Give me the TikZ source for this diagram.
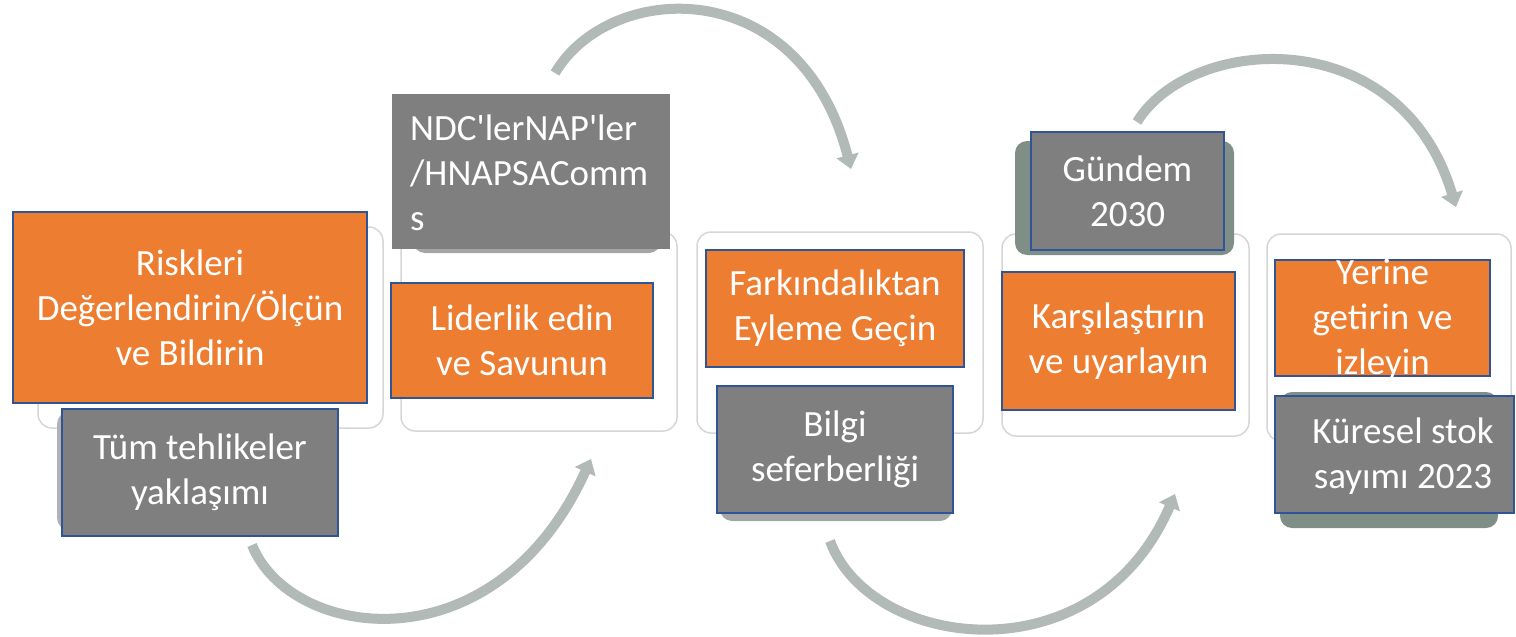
\documentclass[tikz,border=0pt]{standalone}
\usepackage{fontspec}
\setmainfont{Carlito}[Ligatures=TeXOff]
\usetikzlibrary{arrows.meta}
\definecolor{orangebox}{HTML}{ED7D31}
\definecolor{greybox}{HTML}{7F7F7F}
\definecolor{boxline}{HTML}{2F5597}
\definecolor{arcgrey}{HTML}{B2BAB8}
\definecolor{cardline}{HTML}{D6D6D6}
\definecolor{shadowgrey}{HTML}{7F8F88}
\tikzset{
    card/.style={draw=cardline, line width=1.5pt, fill=white, rounded corners=14pt},
    backbox/.style={fill=shadowgrey, rounded corners=12pt},
    obox/.style={draw=boxline, line width=2pt, fill=orangebox, inner sep=0pt},
    gbox/.style={draw=boxline, line width=2pt, fill=greybox, inner sep=0pt},
    lbl/.style={text=white, align=center, font=\fontsize{37}{45}\selectfont},
    flow/.style={draw=arcgrey, line width=10pt, -{Triangle[width=22pt,length=14pt]}}
}
\begin{document}
\begin{tikzpicture}[x=1pt,y=-1pt]
    \useasboundingbox (0,0) rectangle (1516,637);
    % curved arrows
    \coordinate (a1s) at (252,545);
    \coordinate (a1e) at (591,459);
    \coordinate (a2s) at (555,73);
    \coordinate (a2e) at (851,169);
    \coordinate (a3s) at (830,541);
    \coordinate (a3e) at (1175,494);
    \coordinate (a4s) at (1137,122);
    \coordinate (a4e) at (1456,207);
    \draw[flow] (a1s) .. controls (290,640) and (495,670) .. (a1e);
    \draw[flow] (a2s) .. controls (610,-20) and (800,-28) .. (a2e);
    \draw[flow] (a3s) .. controls (870,650) and (1095,680) .. (a3e);
    \draw[flow] (a4s) .. controls (1190,35) and (1400,20) .. (a4e);
    % cards
    \draw[card] (38,227) rectangle (383,428);
    \draw[card] (401,232) rectangle (677,431);
    \draw[card] (697,232) rectangle (983,433);
    \draw[card] (1002,234) rectangle (1249,436);
    \draw[card] (1267,234) rectangle (1511,441);
    % shapes left behind the boxes
    \fill[backbox] (1015,141) rectangle (1234,255);
    \fill[backbox] (1280,392) rectangle (1498,528);
    \fill[backbox, fill=greybox!70!white] (413,150) rectangle (661,253);
    \fill[backbox, fill=greybox!70!white] (720,420) rectangle (952,521);
    \fill[backbox, fill=greybox!60!white] (57,412) rectangle (330,530);
    % boxes
    \node[obox, lbl, minimum width=354pt, minimum height=191pt] (risk) at (190,307.5)
        {Riskleri\\Değerlendirin/Ölçün\\ve Bildirin};
    \node[gbox, lbl, minimum width=276pt, minimum height=127pt] (tum) at (200,472.5)
        {Tüm tehlikeler\\yaklaşımı};
    \node[fill=greybox, minimum width=278pt, minimum height=155pt] (ndc) at (531,171.5) {};
    \node[lbl, align=left, anchor=north west, inner sep=0pt] (ndctext) at (410,115)
        {NDC'lerNAP'ler\\/HNAPSAComm\\s};
    \node[obox, lbl, minimum width=262pt, minimum height=115pt] (lider) at (522,340.5)
        {Liderlik edin\\ve Savunun};
    \node[obox, lbl, minimum width=258pt, minimum height=117pt] (fark) at (835,308.5)
        {Farkındalıktan\\Eyleme Geçin};
    \node[gbox, lbl, minimum width=236pt, minimum height=127pt] (bilgi) at (835,449.5)
        {Bilgi\\seferberliği};
    \node[gbox, lbl, minimum width=193pt, minimum height=118pt] (gundem) at (1127.5,191)
        {Gündem\\2030};
    \node[obox, lbl, minimum width=233pt, minimum height=138pt] (kars) at (1118.5,341)
        {Karşılaştırın\\ve uyarlayın};
    \node[obox, minimum width=215pt, minimum height=116pt] (yerine) at (1382.5,318) {};
    \node[lbl] (yerinetext) at (1382.5,320) {Yerine\\getirin ve\\izleyin};
    \node[gbox, minimum width=239pt, minimum height=117pt] (kuresel) at (1394.5,454.5) {};
    \node[lbl] (kureseltext) at (1403,456) {Küresel stok\\sayımı 2023};
\end{tikzpicture}
\end{document}
